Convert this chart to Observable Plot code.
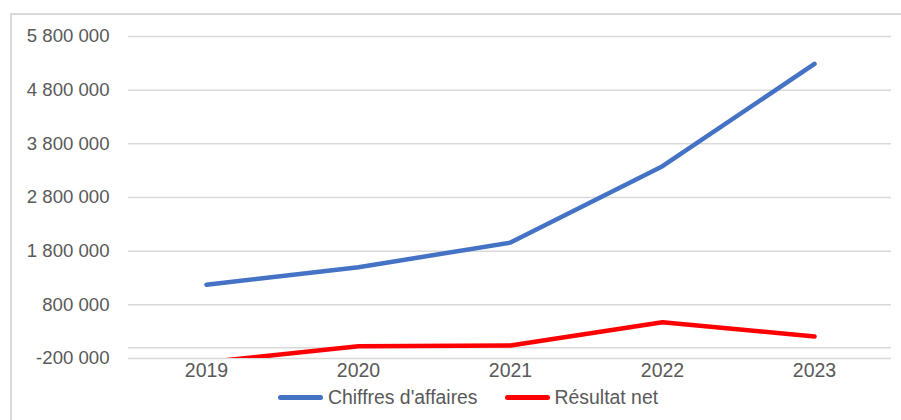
<!DOCTYPE html>
<html>
<head>
<meta charset="utf-8">
<script src="https://cdn.jsdelivr.net/npm/d3@7"></script>
<script src="https://cdn.jsdelivr.net/npm/@observablehq/plot@0.6"></script>
<style>
  html, body { margin: 0; padding: 0; background: #fff; }
  body { width: 901px; height: 420px; position: relative; overflow: hidden; font-family: "Liberation Sans", Arial, sans-serif; }
  #frame { position: absolute; left: 10px; top: 13px; width: 1000px; height: 1000px; border: 2px solid #d9d9d9; box-sizing: border-box; pointer-events: none; }
  #chart { position: absolute; left: 0; top: 0; }
  #legend { position: absolute; left: 278px; top: 382px; height: 30px; display: flex; align-items: center; font-size: 19.4px; color: #595959; white-space: nowrap; }
  .item { display: flex; align-items: center; margin-right: 27px; }
  .sw { width: 45px; height: 5px; border-radius: 3px; margin-right: 5px; }
</style>
</head>
<body>
<div id="frame"></div>
<div id="chart"></div>
<div id="legend"></div>
<script>
const years = ["2019", "2020", "2021", "2022", "2023"];
const chiffresAffaires = [1174000, 1500000, 1960000, 3384000, 5290000];
const resultatNet = [-270000, 30000, 43000, 477000, 210000];
const seriesNames = ["Chiffres d'affaires", "Résultat net"];
const seriesColors = ["#4472C4", "#FF0000"];
const yTicks = [-200000, 800000, 1800000, 2800000, 3800000, 4800000, 5800000];

const fr = d3.formatLocale({decimal: ",", thousands: " ", grouping: [3], currency: ["", ""], minus: "-"});
const fmt = fr.format(",d");

const rows = [];
years.forEach((y, i) => {
  rows.push({year: y, value: chiffresAffaires[i], series: seriesNames[0]});
  rows.push({year: y, value: resultatNet[i], series: seriesNames[1]});
});

const chart = Plot.plot({
  width: 901,
  height: 382,
  marginLeft: 128,
  marginRight: 10,
  marginTop: 36,
  marginBottom: 24,
  style: {fontFamily: "'Liberation Sans', Arial, sans-serif", fontSize: "19px", color: "#595959", background: "transparent"},
  x: {type: "point", domain: years, padding: 0.5, label: null},
  y: {domain: [-200000, 5800000], label: null},
  color: {domain: seriesNames, range: seriesColors},
  marks: [
    Plot.gridY(yTicks, {stroke: "#d9d9d9", strokeOpacity: 1, strokeWidth: 1.5}),
    Plot.ruleY([0], {stroke: "#d9d9d9", strokeWidth: 1.5}),
    Plot.axisY(yTicks, {tickSize: 0, tickPadding: 19, tickFormat: fmt, fontSize: 18.6, fill: "#595959", label: null}),
    Plot.axisX({tickSize: 0, tickPadding: 5, fontSize: 19.5, fill: "#595959", label: null}),
    Plot.line(rows, {x: "year", y: "value", z: "series", stroke: "series", strokeWidth: 4.5, strokeLinecap: "round", strokeLinejoin: "round", clip: "frame"})
  ]
});
document.getElementById("chart").appendChild(chart);

const legend = document.getElementById("legend");
seriesNames.forEach((name, i) => {
  const it = document.createElement("div");
  it.className = "item";
  const sw = document.createElement("div");
  sw.className = "sw";
  sw.style.background = seriesColors[i];
  const tx = document.createElement("span");
  tx.textContent = name;
  it.appendChild(sw);
  it.appendChild(tx);
  legend.appendChild(it);
});
</script>
</body>
</html>
